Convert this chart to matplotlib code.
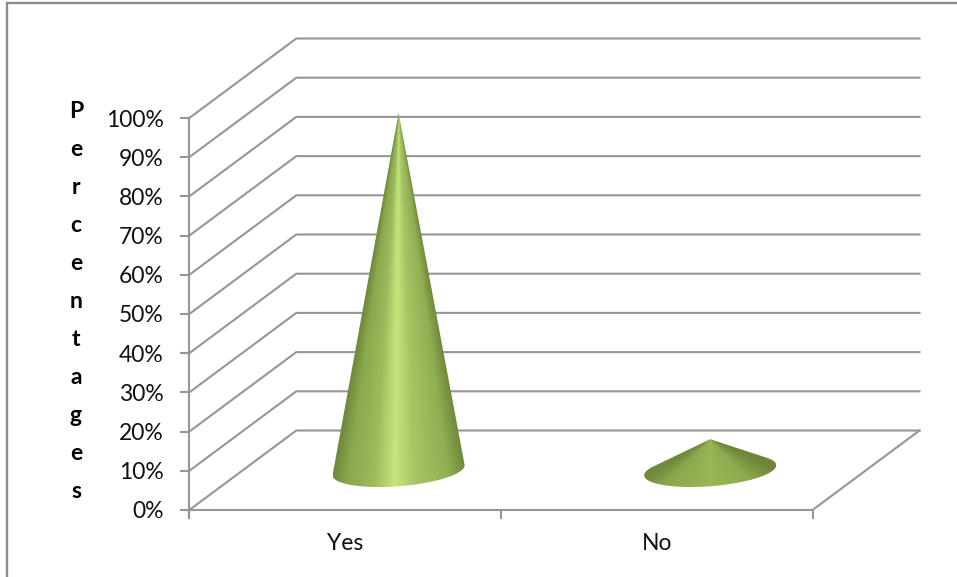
import numpy as np
import matplotlib
matplotlib.use("Agg")
import matplotlib.pyplot as plt
from matplotlib.colors import LinearSegmentedColormap
from matplotlib.patches import Polygon

categories = ["Yes", "No"]
values = [92, 8]
y_ticks = [0, 10, 20, 30, 40, 50, 60, 70, 80, 90, 100]
y_title = "Percentages"

plt.rcParams['font.family'] = ['Lato', 'DejaVu Sans']

# pixel layout of the front plane and the depth offset, figure is 957x577
X0, Y0 = 189.3, 510.0
CAT_W = 311.6
PCT_H = 3.92
DEPTH_X, DEPTH_Y = 107.0 / CAT_W, 79.5 / PCT_H
GRID = "#969696"
LW = 1.5

fig = plt.figure(figsize=(9.57, 5.77), dpi=100)
ax = fig.add_axes([0, 0, 1, 1])
xlim = (-X0 / CAT_W, (957 - X0) / CAT_W)
ylim = ((Y0 - 577) / PCT_H, Y0 / PCT_H)
ax.axis("off")


def px_x(n):
    return n / CAT_W


def px_y(n):
    return n / PCT_H


n_cat = len(categories)

# chart frame, only the left and top edges fall inside the figure
ax.plot([px_x(7 - X0), px_x(7 - X0), px_x(957 - X0)],
        [px_y(Y0 - 577), px_y(Y0 - 2.7), px_y(Y0 - 2.7)],
        color="#8c8c8c", lw=1.7, solid_joinstyle="miter")

# gridlines wrap from the side wall onto the back wall
for t in y_ticks:
    ax.plot([0, DEPTH_X, n_cat + DEPTH_X], [t, t + DEPTH_Y, t + DEPTH_Y],
            color=GRID, lw=LW, solid_joinstyle="miter", zorder=1)
    ax.plot([-px_x(8), 0], [t, t], color=GRID, lw=LW, zorder=1)
    ax.text(-px_x(25.5), t - px_y(2), "%d%%" % t, ha="right", va="center", fontsize=16.5, color="#111111")

# axis lines and the floor
ax.plot([0, 0], [-px_y(8), 100], color=GRID, lw=LW, zorder=1)
ax.plot([0, n_cat, n_cat + DEPTH_X], [0, 0, DEPTH_Y], color=GRID, lw=LW,
        solid_joinstyle="miter", zorder=1)
for i in range(n_cat + 1):
    ax.plot([i, i], [0, -px_y(8)], color=GRID, lw=LW, zorder=1)

for i, name in enumerate(categories):
    ax.text(i + 0.5, -px_y(34), name, ha="center", va="center", fontsize=16.5, color="#111111")

# vertical axis title, one letter per line
for i, ch in enumerate(y_title):
    ax.text(px_x(76 - X0), px_y(Y0 - (112 + i * 37.9)), ch, ha="center", va="center",
            fontsize=16.5, fontweight="bold", color="#000000")

# cone shading runs left to right around the base
tall_cmap = LinearSegmentedColormap.from_list("tall", [
    (0.00, "#71893d"), (0.10, "#8aa84d"), (0.30, "#9aba5c"), (0.47, "#c4e67c"),
    (0.62, "#a8c666"), (0.88, "#90ae52"), (1.00, "#71893d")])
low_cmap = LinearSegmentedColormap.from_list("low", [
    (0.00, "#71893d"), (0.15, "#8aa84d"), (0.50, "#97b758"),
    (0.80, "#8dab4f"), (1.00, "#6d8639")])


def draw_cone(i, value, cmap):
    cx = i + 0.5 + DEPTH_X / 2
    cy = DEPTH_Y / 2
    top = cy + value * 0.99
    t = np.linspace(0, 2 * np.pi, 1441)
    ex = cx + px_x(66) * np.cos(t)
    ey = cy + px_y(5) * np.cos(t) - px_y(16) * np.sin(t)

    # angle seen from the apex, measured in pixels so the fan is not distorted
    ang = np.arctan2((ex - cx) * CAT_W, (top - ey) * PCT_H)
    right = np.argmax(ang)
    left = np.argmin(ang)
    # visible arc goes through the lowest point of the ellipse
    arc = np.arange(right, left + 1) if right < left else np.r_[right:len(t), 1:left + 1]
    arc_ang = ang[arc]

    gx = np.linspace(ex.min(), ex.max(), 400)
    gy = np.linspace(ey.min() - px_y(1), top, 500)
    xx, yy = np.meshgrid(gx, gy)
    pix_ang = np.arctan2((xx - cx) * CAT_W, (top - yy) * PCT_H)
    order = np.argsort(arc_ang)
    u = np.interp(pix_ang, arc_ang[order], (np.cos(t[arc][order]) + 1) / 2)

    im = ax.imshow(cmap(u), extent=(gx[0], gx[-1], gy[0], gy[-1]), origin="lower",
                   aspect="auto", interpolation="bilinear", zorder=3)
    outline = np.column_stack([np.r_[cx, ex[arc]], np.r_[top, ey[arc]]])
    im.set_clip_path(Polygon(outline, closed=True, transform=ax.transData))


draw_cone(0, values[0], tall_cmap)
draw_cone(1, values[1], low_cmap)

ax.set_xlim(*xlim)
ax.set_ylim(*ylim)

fig.savefig("out.png", dpi=100, facecolor="white")
